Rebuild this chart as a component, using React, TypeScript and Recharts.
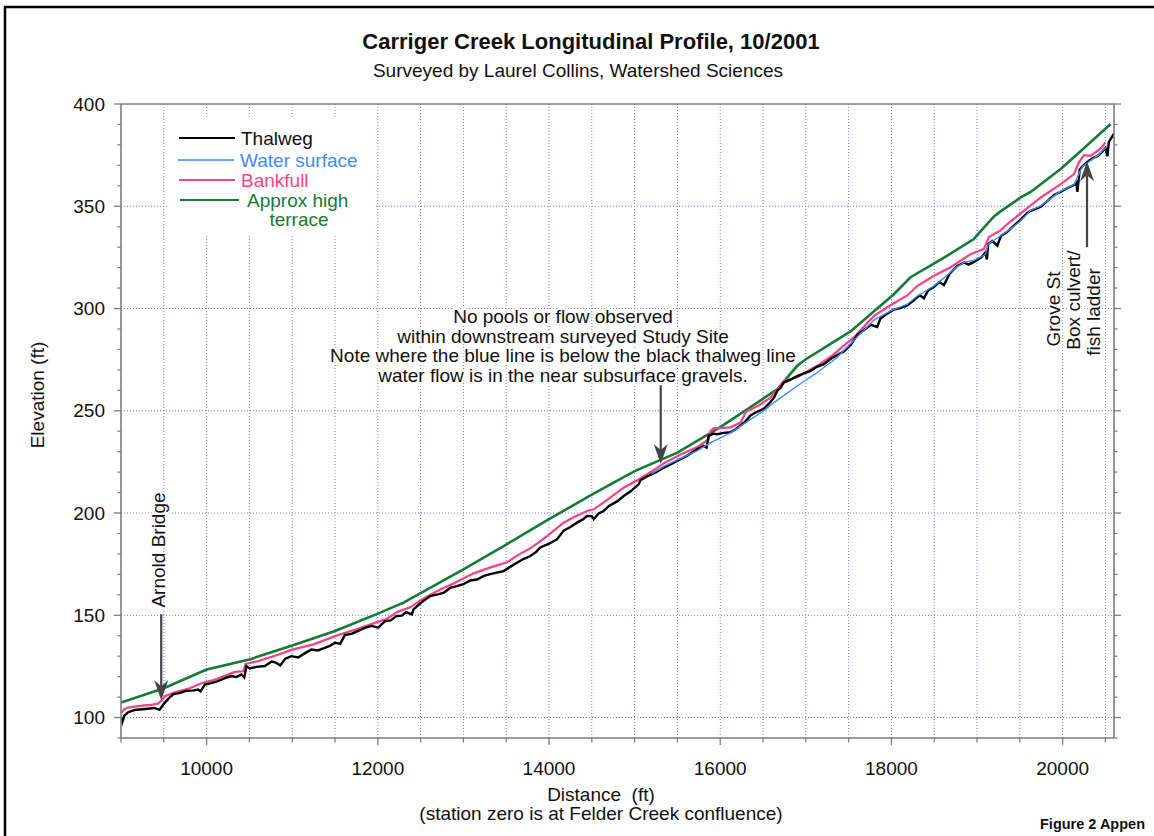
import React from 'react'
import {
  LineChart,
  Line,
  XAxis,
  YAxis,
  CartesianGrid,
  ReferenceLine,
} from 'recharts'

// distance (ft), elevation (ft)
const thalweg: [number, number][] = [
  [9000, 100], [9015, 97.8], [9040, 101], [9080, 102.5], [9160, 103.7], [9280, 104.2],
  [9390, 104.7], [9450, 103.8], [9510, 107.2], [9560, 109.5], [9610, 111.3], [9700, 112.2],
  [9750, 112.9], [9850, 113.3], [9900, 113.7], [9930, 112.8], [9980, 116.1], [10050, 116.8],
  [10133, 117.8], [10200, 119], [10289, 120.3], [10350, 119.8], [10406, 121.1], [10440, 119.6],
  [10465, 125.1], [10504, 124], [10580, 124.8], [10680, 125.2], [10760, 127.4], [10800, 127],
  [10860, 125.5], [10920, 128.8], [10991, 130], [11069, 129.4], [11150, 131.5], [11225, 133.3],
  [11300, 132.8], [11381, 134.1], [11440, 135], [11498, 136.6], [11560, 136], [11615, 140.3],
  [11700, 141], [11770, 142.4], [11850, 143.8], [11926, 144.8], [12004, 144], [12082, 147],
  [12150, 147.5], [12218, 149.6], [12280, 149.8], [12330, 151.5], [12398, 150.4], [12417, 152.9],
  [12500, 156], [12612, 159.4], [12700, 160.2], [12768, 161], [12850, 163.5], [12924, 164.3],
  [13000, 165.2], [13080, 167], [13158, 167.5], [13240, 169.3], [13314, 170.1], [13400, 171],
  [13470, 171.6], [13550, 173.8], [13626, 175.7], [13700, 177.5], [13782, 179], [13850, 181],
  [13898, 183.2], [14000, 185], [14093, 187.1], [14171, 191.4], [14250, 193.2], [14327, 195.3],
  [14400, 197], [14444, 198.6], [14500, 198.5], [14522, 197], [14580, 199.8], [14638, 201],
  [14700, 203.5], [14800, 205.8], [14872, 208.3], [14950, 210.5], [15047, 214], [15067, 216],
  [15150, 218], [15250, 220], [15340, 222.2], [15430, 224], [15535, 226.3], [15620, 228.2],
  [15729, 231.2], [15807, 232.8], [15840, 232], [15866, 237.7], [15920, 238.8], [15963, 238.5],
  [16040, 239.2], [16119, 239.5], [16180, 241], [16236, 242.8], [16290, 244.5], [16353, 247.7],
  [16430, 249.5], [16509, 251], [16587, 254.3], [16630, 256.5], [16665, 259.7], [16700, 261],
  [16743, 263.8], [16820, 265.2], [16899, 267], [16980, 268.3], [17055, 269.5], [17130, 271.5],
  [17211, 272.8], [17288, 275.3], [17366, 277.3], [17444, 279], [17522, 282], [17600, 287],
  [17680, 289.5], [17760, 292], [17834, 291], [17870, 295], [17950, 297.5], [18030, 299.5],
  [18100, 300.2], [18185, 301.5], [18260, 304], [18330, 306.5], [18380, 305], [18430, 309],
  [18496, 310.5], [18560, 313], [18613, 311.5], [18680, 317], [18769, 320.8], [18850, 322.5],
  [18900, 321.5], [18964, 322.8], [19050, 325], [19100, 327.5], [19115, 324], [19130, 331.5],
  [19180, 333], [19237, 330.7], [19280, 335.5], [19354, 337.5], [19430, 340.5], [19510, 343.5],
  [19580, 346.5], [19626, 347.8], [19700, 349], [19744, 349.8], [19820, 352.5], [19900, 355.5],
  [19977, 357], [20050, 358.8], [20133, 360.4], [20160, 361.5], [20172, 357], [20200, 368],
  [20230, 369.5], [20300, 372], [20350, 373.5], [20405, 374.5], [20460, 376.5], [20500, 378.5],
  [20523, 374.5], [20540, 381.5], [20562, 383], [20600, 385.5],
]

const waterSurface: [number, number][] = [
  [15200, 219.3], [15340, 222.8], [15500, 226], [15729, 230.4], [15885, 234.3], [16119, 239.2],
  [16236, 242.5], [16509, 250], [16626, 254], [16899, 262.1], [17133, 268.7], [17366, 276],
  [17420, 278.6], [17550, 284], [17800, 294.5], [17990, 298.8], [18185, 302.1], [18300, 306],
  [18496, 311], [18600, 314.5], [18769, 320.5], [18850, 322.6], [18964, 323.6], [19100, 326.5],
  [19130, 331.5], [19354, 337.8], [19500, 342.5], [19626, 348], [19744, 350.2], [19977, 357.4],
  [20133, 360.6], [20230, 369.5], [20405, 374.6], [20505, 378.8],
]

const bankfull: [number, number][] = [
  [9000, 102], [9040, 104.2], [9100, 105], [9250, 105.8], [9350, 106.2], [9430, 106.8],
  [9470, 108.2], [9520, 110.6], [9620, 112.2], [9780, 114], [9940, 116.8], [10100, 118.6],
  [10250, 121], [10330, 122.3], [10430, 122.6], [10455, 126.2], [10600, 127.6], [10800, 130.2],
  [11000, 133.2], [11250, 135.8], [11500, 139.8], [11750, 143.2], [11966, 146.3], [12100, 148.2],
  [12238, 151.8], [12378, 153.9], [12500, 157.4], [12729, 162.6], [12885, 165.6], [13119, 170.5],
  [13300, 173.2], [13509, 175.9], [13626, 179.2], [13800, 183.2], [13976, 188.7], [14171, 195.3],
  [14300, 198.2], [14444, 201], [14522, 201.8], [14700, 207], [14872, 212.4], [15047, 216.4],
  [15200, 220.3], [15340, 224.3], [15535, 228.6], [15729, 232.2], [15850, 235.6], [15885, 240],
  [15924, 241.4], [16119, 241.9], [16240, 244.3], [16300, 249.5], [16450, 252.6], [16587, 256.4],
  [16700, 262], [16743, 264.6], [16899, 266.4], [17000, 269], [17133, 272], [17327, 277.6],
  [17420, 281], [17550, 285.5], [17800, 296.5], [17990, 301.6], [18185, 306.4], [18300, 311],
  [18496, 316], [18691, 320.2], [18925, 326.6], [19081, 329.2], [19139, 335], [19276, 338.2],
  [19354, 341.3], [19510, 346.5], [19744, 354.3], [19977, 360.8], [20133, 365.7], [20190, 371.5],
  [20250, 375], [20328, 374.6], [20445, 378.3], [20500, 381.2],
]

const highTerrace: [number, number][] = [
  [9000, 107.3], [9500, 114.3], [10000, 123.5], [10500, 128.4], [11000, 135.2], [11500, 142.3],
  [12000, 150.8], [12300, 156.2], [12700, 165.5], [13000, 172.5], [13500, 184.6], [14000, 197],
  [14500, 209], [15000, 220.5], [15500, 229.5], [16000, 242], [16314, 250.7], [16665, 260.5],
  [16900, 272], [17000, 275.2], [17522, 288.8], [18028, 307], [18223, 315.3], [18600, 324.5],
  [18963, 334], [19197, 345], [19275, 347.5], [19510, 354.3], [19626, 357], [19977, 368.2],
  [20300, 380.3], [20560, 390.2],
]

const xTicks = [
  9000, 9500, 10000, 10500, 11000, 11500, 12000, 12500, 13000, 13500, 14000, 14500,
  15000, 15500, 16000, 16500, 17000, 17500, 18000, 18500, 19000, 19500, 20000, 20500,
]
const yTicks = [
  90, 100, 110, 120, 130, 140, 150, 160, 170, 180, 190, 200, 210, 220, 230, 240, 250,
  260, 270, 280, 290, 300, 310, 320, 330, 340, 350, 360, 370, 380, 390, 400,
]
const gridX = xTicks.slice(1)
const gridY = [100, 150, 200, 250, 300, 350]

const toRows = (pts: [number, number][]) => pts.map(([d, e]) => ({ d, e }))

const FONT = '"Liberation Sans", Arial, Helvetica, sans-serif'
const AXIS = '#7d7d7d'
const INK = '#111'

function LeftTick({ x, y, payload }: any) {
  const major = payload.value % 50 === 0
  return (
    <g>
      <line x1={x} x2={x - (major ? 7 : 3.5)} y1={y} y2={y} stroke={AXIS} strokeWidth={1.3} />
      {major && payload.value >= 100 && (
        <text x={x - 16} y={y} textAnchor="end" dominantBaseline="central"
          fontSize={19} fill={INK} fontFamily={FONT}>{payload.value}</text>
      )}
    </g>
  )
}

function RightTick({ x, y, payload }: any) {
  const major = payload.value % 50 === 0
  return <line x1={x} x2={x + (major ? 7 : 3.5)} y1={y} y2={y} stroke={AXIS} strokeWidth={1.3} />
}

function BottomTick({ x, y, payload }: any) {
  const major = payload.value % 2000 === 0
  return (
    <g>
      <line x1={x} x2={x} y1={y} y2={y + (major ? 7 : 4.5)} stroke={AXIS} strokeWidth={1.3} />
      {major && (
        <text x={x} y={y + 37} textAnchor="middle" fontSize={19} fill={INK} fontFamily={FONT}>
          {payload.value}
        </text>
      )}
    </g>
  )
}

function Arrow(props: any) {
  const { x1, y1, x2, y2 } = props
  const dir = y2 > y1 ? 1 : -1
  const base = y2 - dir * 20
  const notch = base + dir * 6
  return (
    <g>
      <line x1={x1} y1={y1} x2={x2} y2={notch} stroke="#444" strokeWidth={2.2} />
      <polygon points={`${x2},${y2} ${x2 - 7},${base} ${x2},${notch} ${x2 + 7},${base}`} fill="#444" />
    </g>
  )
}

const halo = { stroke: '#fff', strokeWidth: 4, paintOrder: 'stroke' as const, strokeLinejoin: 'round' as const }

export default function App() {
  return (
    <div style={{ position: 'absolute', left: 0, top: 0, width: 1154, height: 836, background: '#fff', overflow: 'hidden' }}>
      <LineChart width={1154} height={836} margin={{ top: 104, right: 10, bottom: 68, left: 61 }}
        style={{ position: 'absolute', left: 0, top: 0 }}>
        <CartesianGrid stroke="#6f80f0" strokeDasharray="1 2" strokeWidth={1}
          verticalValues={gridX} horizontalValues={gridY} />
        <XAxis dataKey="d" type="number" domain={[9000, 20600]} allowDataOverflow ticks={xTicks}
          interval={0} tickSize={0} tickMargin={0} height={30}
          axisLine={{ stroke: AXIS, strokeWidth: 1.6 }} tickLine={false} tick={(p: any) => <BottomTick {...p} />} />
        <YAxis type="number" domain={[90, 400]} allowDataOverflow ticks={yTicks} interval={0}
          tickSize={0} tickMargin={0} width={60}
          axisLine={{ stroke: AXIS, strokeWidth: 1.6 }} tickLine={false} tick={(p: any) => <LeftTick {...p} />} />
        <YAxis yAxisId="right" orientation="right" type="number" domain={[90, 400]} allowDataOverflow
          ticks={yTicks} interval={0} tickSize={0} tickMargin={0} width={30}
          axisLine={{ stroke: AXIS, strokeWidth: 1.6 }} tickLine={false} tick={(p: any) => <RightTick {...p} />} />
        <ReferenceLine y={400} stroke={AXIS} strokeWidth={1.4} />

        <Line data={toRows(highTerrace)} dataKey="e" name="Approx high terrace" type="linear"
          stroke="#157a33" strokeWidth={2.6} dot={false} isAnimationActive={false} />
        <Line data={toRows(bankfull)} dataKey="e" name="Bankfull" type="linear"
          stroke="#ff3f83" strokeWidth={2.2} dot={false} isAnimationActive={false} />
        <Line data={toRows(thalweg)} dataKey="e" name="Thalweg" type="linear"
          stroke="#000" strokeWidth={2.4} dot={false} isAnimationActive={false} />
        <Line data={toRows(waterSurface)} dataKey="e" name="Water surface" type="linear"
          stroke="#3d8cff" strokeWidth={1.4} dot={false} isAnimationActive={false} />

        <ReferenceLine segment={[{ x: 9470, y: 150.5 }, { x: 9470, y: 108.5 }]} shape={(p: any) => <Arrow {...p} />} />
        <ReferenceLine segment={[{ x: 15305, y: 262.5 }, { x: 15305, y: 224 }]} shape={(p: any) => <Arrow {...p} />} />
        <ReferenceLine segment={[{ x: 20285, y: 330 }, { x: 20285, y: 372 }]} shape={(p: any) => <Arrow {...p} />} />
      </LineChart>

      <svg width={1154} height={836} style={{ position: 'absolute', left: 0, top: 0, pointerEvents: 'none' }}
        fontFamily={FONT}>
        <rect x={5} y={7} width={1200} height={900} fill="none" stroke="#000" strokeWidth={2.5} />

        <text x={591} y={49} textAnchor="middle" fontSize={22} fontWeight="bold" fill={INK}>
          Carriger Creek Longitudinal Profile, 10/2001
        </text>
        <text x={578} y={77} textAnchor="middle" fontSize={19} fill={INK}>
          Surveyed by Laurel Collins, Watershed Sciences
        </text>

        <text transform="translate(44,395) rotate(-90)" textAnchor="middle" fontSize={19} fill={INK}>
          Elevation (ft)
        </text>
        <text x={601} y={801} textAnchor="middle" fontSize={19} fill={INK} xmlSpace="preserve">
          Distance  (ft)
        </text>
        <text x={601} y={820} textAnchor="middle" fontSize={19} fill={INK}>
          (station zero is at Felder Creek confluence)
        </text>
        <text x={1040} y={829} fontSize={14.5} fontWeight="bold" fill={INK}>Figure 2 Appen</text>

        {/* legend */}
        <rect x={168} y={119} width={208} height={117} fill="#fff" />
        <line x1={179} x2={235} y1={138} y2={138} stroke="#000" strokeWidth={2} />
        <text x={241} y={138} dominantBaseline="central" fontSize={19} fill={INK}>Thalweg</text>
        <line x1={178} x2={234} y1={160} y2={160} stroke="#3d8cff" strokeWidth={1.3} />
        <text x={240} y={160} dominantBaseline="central" fontSize={19} fill="#3d8cff">Water surface</text>
        <line x1={179} x2={235} y1={180} y2={180} stroke="#ff3f83" strokeWidth={2} />
        <text x={241} y={180} dominantBaseline="central" fontSize={19} fill="#ff3f83">Bankfull</text>
        <line x1={180} x2={239} y1={200} y2={200} stroke="#157a33" strokeWidth={2} />
        <text x={247} y={200} dominantBaseline="central" fontSize={19} fill="#157a33">Approx high</text>
        <text x={299} y={219} dominantBaseline="central" textAnchor="middle" fontSize={19} fill="#157a33">terrace</text>

        {/* annotations */}
        <g fontSize={19} fill={INK} textAnchor="middle" {...halo}>
          <text x={563} y={323}>No pools or flow observed</text>
          <text x={563} y={343}>within downstream surveyed Study Site</text>
          <text x={563} y={362}>Note where the blue line is below the black thalweg line</text>
          <text x={563} y={382}>water flow is in the near subsurface gravels.</text>
          <text transform="translate(165,550) rotate(-90)">Arnold Bridge</text>
          <text transform="translate(1060,309) rotate(-90)">Grove St</text>
          <text transform="translate(1080,300) rotate(-90)">Box culvert/</text>
          <text transform="translate(1100,312) rotate(-90)">fish ladder</text>
        </g>
      </svg>
    </div>
  )
}
